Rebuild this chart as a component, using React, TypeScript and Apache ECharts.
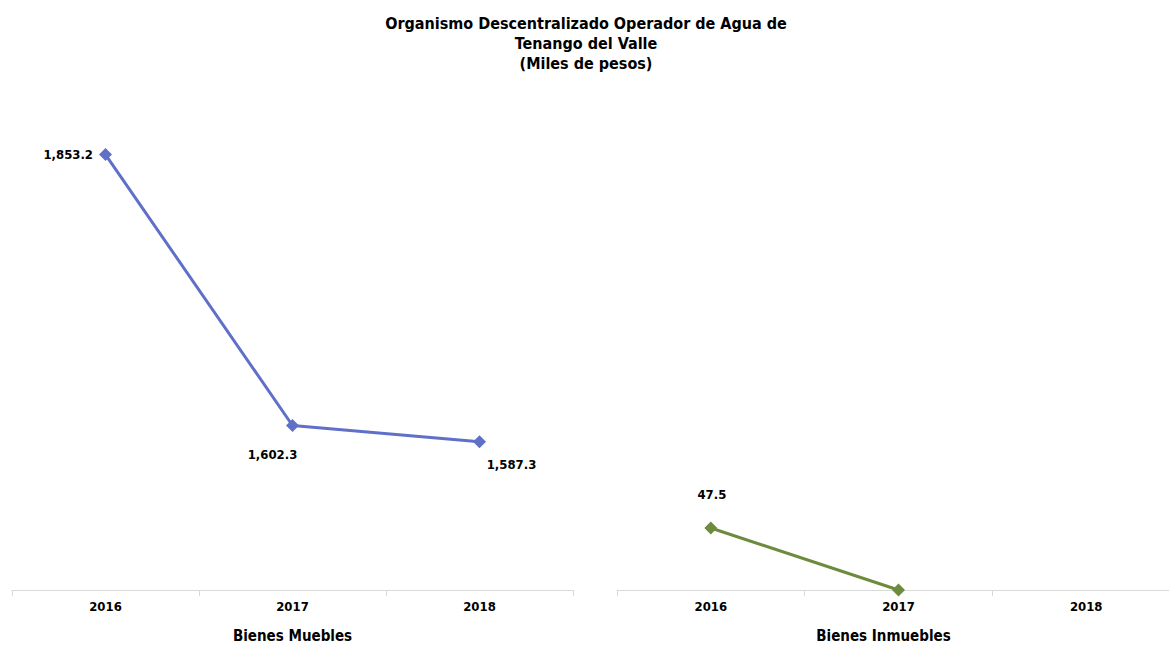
import React, { useEffect, useRef } from "react";
import * as echarts from "echarts";

const titleLines = [
  "Organismo Descentralizado Operador de Agua de",
  "Tenango del Valle",
  "(Miles de pesos)",
];
const years = ["2016", "2017", "2018"];
const mueblesName = "Bienes Muebles";
const inmueblesName = "Bienes Inmuebles";
const mueblesValues = [1853.2, 1602.3, 1587.3];
const inmueblesValues: (number | null)[] = [47.5, 0, null];

const FONT = "'Liberation Sans Narrow', 'Arial Narrow', 'DejaVu Sans Condensed', 'Liberation Sans', sans-serif";

const fmt = (v: number) =>
  v.toLocaleString("en-US", { minimumFractionDigits: 1, maximumFractionDigits: 1 });

export default function App() {
  const ref = useRef<HTMLDivElement>(null);
  useEffect(() => {
    if (!ref.current) return;
    const chart = echarts.init(ref.current, undefined, { renderer: "svg" });
    const axisCommon = {
      type: "category" as const,
      data: years,
      boundaryGap: true,
      axisLine: { lineStyle: { color: "#D9D9D9", width: 1 } },
      axisTick: { show: true, length: 6, lineStyle: { color: "#D9D9D9" } },
      axisLabel: { color: "#000", fontFamily: FONT, fontWeight: "bold", fontSize: 13, margin: 10 },
      nameLocation: "middle" as const,
      nameGap: 38,
    };
    const muebLabels = [
      { position: "left", offset: [2, 0] },
      { position: "bottom", offset: [-20, 8] },
      { position: "bottom", offset: [32, 2] },
    ];
    chart.setOption({
      animation: false,
      graphic: [
        {
          type: "text",
          x: 586,
          y: 13,
          style: {
            text: titleLines.join("\n"),
            textAlign: "center",
            textVerticalAlign: "top",
            font: `bold 16px ${FONT}`,
            lineHeight: 20,
            fill: "#000",
          },
        },
      ],
      grid: [
        { left: 12, width: 561, top: 104, bottom: 58 },
        { left: 617, width: 563, top: 106, bottom: 58 },
      ],
      xAxis: [
        {
          ...axisCommon,
          gridIndex: 0,
          name: mueblesName,
          nameTextStyle: { fontFamily: FONT, fontWeight: "bold", fontSize: 15, color: "#000" },
        },
        {
          ...axisCommon,
          gridIndex: 1,
          name: inmueblesName,
          nameTextStyle: {
            fontFamily: FONT,
            fontWeight: "bold",
            fontSize: 15,
            color: "#000",
            padding: [0, 30, 0, 0],
          },
        },
      ],
      yAxis: [
        { type: "value", gridIndex: 0, min: 1450, max: 1900, show: false },
        { type: "value", gridIndex: 1, min: 0, max: 371, show: false },
      ],
      series: [
        {
          type: "line",
          name: mueblesName,
          xAxisIndex: 0,
          yAxisIndex: 0,
          data: mueblesValues.map((v, i) => ({
            value: v,
            label: muebLabels[i],
          })),
          symbol: "diamond",
          symbolSize: 13,
          lineStyle: { color: "#6070C8", width: 3 },
          itemStyle: { color: "#6070C8" },
          label: {
            show: true,
            fontFamily: FONT,
            fontWeight: "bold",
            fontSize: 13,
            color: "#000",
            distance: 8,
            formatter: (p: any) => fmt(p.value),
          },
        },
        {
          type: "line",
          name: inmueblesName,
          xAxisIndex: 1,
          yAxisIndex: 1,
          data: inmueblesValues.map((v, i) => ({
            value: v,
            label: i === 0 ? { show: true, position: "top", offset: [1, -16] } : { show: false },
          })),
          symbol: "diamond",
          symbolSize: 13,
          lineStyle: { color: "#6E8B3D", width: 3 },
          itemStyle: { color: "#6E8B3D" },
          label: {
            fontFamily: FONT,
            fontWeight: "bold",
            fontSize: 13,
            color: "#000",
            formatter: (p: any) => fmt(p.value),
          },
        },
      ],
    });
    return () => chart.dispose();
  }, []);
  return (
    <div style={{ width: 1169, height: 648, position: "absolute", left: 0, top: 0, overflow: "hidden" }}>
      <div ref={ref} style={{ width: 1181, height: 648 }} />
    </div>
  );
}
